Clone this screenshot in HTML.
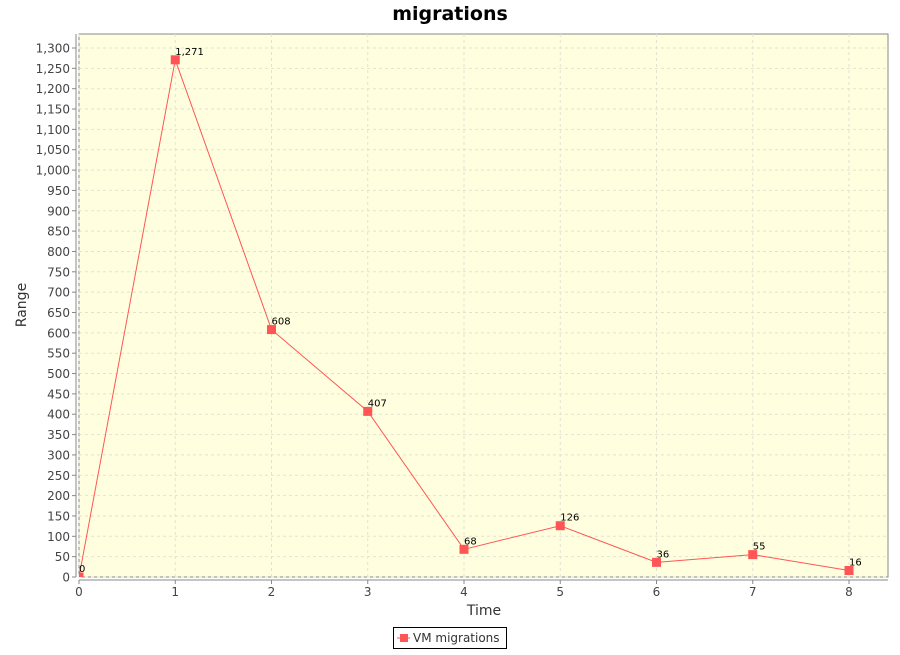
<!DOCTYPE html>
<html><head><meta charset="utf-8"><style>
body{margin:0;background:#fff;width:900px;height:650px;overflow:hidden}
svg{font-family:"DejaVu Sans","Liberation Sans",sans-serif}
</style></head><body>
<svg id="c" width="900" height="650">
<defs><clipPath id="pc"><rect x="79" y="34" width="809" height="543"/></clipPath></defs>
<text x="450" y="20" text-anchor="middle" font-size="19" font-weight="bold">migrations</text>
<rect x="79" y="34" width="809" height="543" fill="#ffffdf" stroke="#888" stroke-width="1"/>
<g id="grid"></g><g id="axes"></g><g id="series" clip-path="url(#pc)"></g><g id="labels"></g>
<text transform="translate(26,305) rotate(-90)" text-anchor="middle" font-size="14" fill="#333">Range</text>
<text x="484" y="615" text-anchor="middle" font-size="14" fill="#333">Time</text>
<g>
<rect x="393.5" y="627.5" width="113" height="21" fill="#fff" stroke="#000"/>
<line x1="397" y1="638" x2="410" y2="638" stroke="#ff5555"/>
<rect x="400" y="634" width="8" height="8" fill="#ff5555"/>
<text x="413" y="642" font-size="12" fill="#333">VM migrations</text>
</g>
</svg>
<script>
const xValues=[0,1,2,3,4,5,6,7,8];
const yValues=[0,1271,608,407,68,126,36,55,16];
const valueLabels=["0","1,271","608","407","68","126","36","55","16"];
const yTicks=[0,50,100,150,200,250,300,350,400,450,500,550,600,650,700,750,800,850,900,950,1000,1050,1100,1150,1200,1250,1300];
const xTicks=[0,1,2,3,4,5,6,7,8];
const NS="http://www.w3.org/2000/svg";
const X=v=>79+v*96.25, Y=v=>577-v*529/1300;
function mk(p,t,a){const e=document.createElementNS(NS,t);for(const k in a)e.setAttribute(k,a[k]);p.appendChild(e);return e;}
const grid=document.getElementById('grid'),axes=document.getElementById('axes'),ser=document.getElementById('series'),lab=document.getElementById('labels');
yTicks.forEach(t=>{
 const l=mk(grid,'line',{x1:79,x2:888,y1:Y(t),y2:Y(t),stroke:'#e2e2d2','stroke-dasharray':'3,3'});
 
 
 const tk=mk(axes,'line',{x1:72,x2:76,y1:Y(t),y2:Y(t),stroke:'#888'});
 
 
 const tx=mk(axes,'text',{x:70,y:Y(t)+4.5,'text-anchor':'end','font-size':12,fill:'#444'});
 tx.textContent=t.toLocaleString('en-US');
 
 
});
xTicks.forEach(t=>{
 const l=mk(grid,'line',{x1:X(t),x2:X(t),y1:34,y2:577,stroke:'#e2e2d2','stroke-dasharray':'3,3'});
 
 
 const tk=mk(axes,'line',{x1:X(t),x2:X(t),y1:580,y2:584,stroke:'#888'});
 
 
 const tx=mk(axes,'text',{x:X(t),y:596,'text-anchor':'middle','font-size':12,fill:'#444'});
 tx.textContent=t;
 
 
});
const ya=mk(axes,'line',{x1:76,x2:76,y1:34,y2:577,stroke:'#888'});


const xa=mk(axes,'line',{x1:79,x2:888,y1:580,y2:580,stroke:'#888'});


const pl=mk(ser,'polyline',{points:xValues.map((x,i)=>X(x)+','+Y(yValues[i])).join(' '),fill:'none',stroke:'#ff5555'});


xValues.forEach((x,i)=>{
 const r=mk(ser,'rect',{x:X(x)-4.5,y:Y(yValues[i])-4.5,width:9,height:9,fill:'#ff5555'});
 
 
 const t=mk(lab,'text',{x:X(x)+0,y:Y(yValues[i])-5,'font-size':10,fill:'#000'});
 t.textContent=valueLabels[i];
 
 
});
</script>
</body></html>
